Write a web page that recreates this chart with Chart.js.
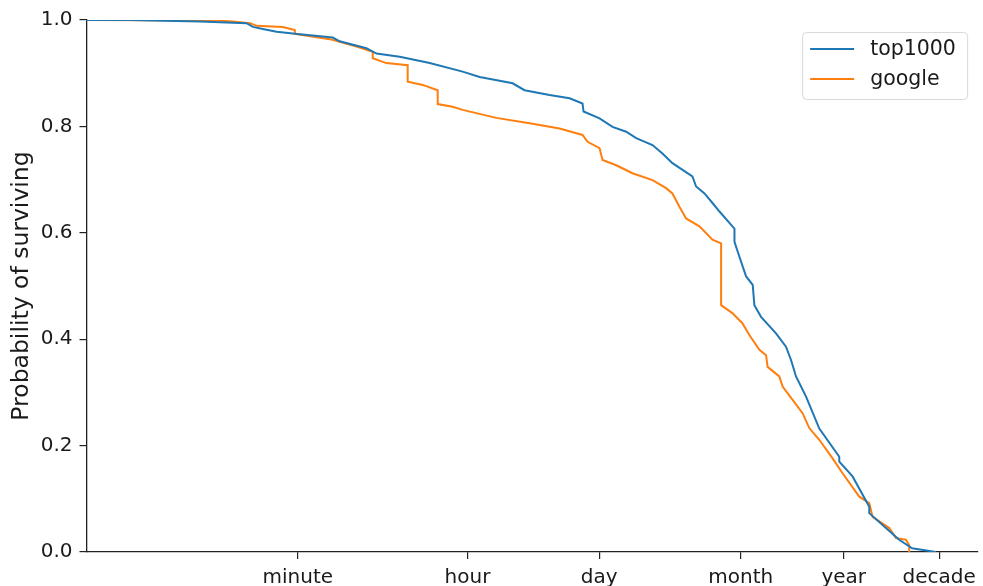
<!DOCTYPE html>
<html>
<head>
<meta charset="utf-8">
<script src="https://cdn.jsdelivr.net/npm/chart.js@4.4.1/dist/chart.umd.min.js"></script>
<style>
  body { margin: 0; background: #fff; }
  canvas { display: block; }
</style>
</head>
<body>
<canvas id="survivalChart" width="983" height="586"></canvas>
<script>
// time in seconds, survival probability
const top1000Time = [0.3, 1.04, 5.65, 17.4, 20.3, 25.8, 35.9, 63, 139, 165, 314, 400, 701, 1445,
  3200, 4820, 7810, 10690, 14260, 26060, 42270, 57800, 59200, 87100, 119100, 165600, 210900,
  312600, 397400, 505800, 818800, 895300, 1.096e6, 1.329e6, 1.574e6, 2.153e6, 2.259e6, 2.259e6,
  2.545e6, 2.992e6, 3.51e6, 3.651e6, 4.29e6, 6.156e6, 7.831e6, 8.845e6, 9.98e6, 1.271e7, 1.75e7,
  2.833e7, 2.833e7, 3.904e7, 5.843e7, 5.843e7, 8.736e7, 1.203e8, 1.644e8, 2.917e8];
const top1000Surv = [1.0, 1.0, 0.997, 0.994, 0.987, 0.983, 0.978, 0.973, 0.967, 0.960, 0.947, 0.937, 0.931, 0.919,
  0.903, 0.893, 0.886, 0.881, 0.868, 0.859, 0.853, 0.843, 0.828, 0.815, 0.799, 0.790, 0.778,
  0.765, 0.749, 0.731, 0.706, 0.687, 0.674, 0.656, 0.640, 0.612, 0.608, 0.583,
  0.555, 0.518, 0.502, 0.464, 0.442, 0.411, 0.386, 0.361, 0.330, 0.292, 0.232,
  0.179, 0.170, 0.142, 0.085, 0.073, 0.045, 0.023, 0.007, 0.0];

const googleTime = [0.3, 8.45, 12.5, 18.9, 22.2, 41.8, 55.8, 55.8, 129.7, 247, 366, 366, 509, 850, 850,
  1222, 1754, 1754, 2518, 3200, 7210, 16110, 33190, 57800, 65200, 87100, 93600, 130300, 192800,
  312600, 434600, 505800, 598400, 703400, 970000, 1.329e6, 1.637e6, 1.637e6, 2.148e6, 2.734e6,
  3.236e6, 4.121e6, 4.842e6, 5.027e6, 6.664e6, 7.219e6, 9.19e6, 1.169e7, 1.374e7, 1.75e7, 2.411e7,
  3.069e7, 4.592e7, 5.843e7, 6.327e7, 9.47e7, 1.112e8, 1.413e8, 1.531e8, 1.531e8];
const googleSurv = [1.0, 0.999, 0.997, 0.994, 0.989, 0.987, 0.981, 0.974, 0.964, 0.950, 0.940, 0.928, 0.919, 0.915, 0.884,
  0.878, 0.868, 0.842, 0.837, 0.831, 0.816, 0.806, 0.796, 0.784, 0.771, 0.759, 0.737, 0.727, 0.712,
  0.699, 0.684, 0.674, 0.649, 0.627, 0.612, 0.587, 0.580, 0.464, 0.449, 0.430,
  0.408, 0.380, 0.370, 0.348, 0.330, 0.311, 0.286, 0.261, 0.233, 0.211, 0.176,
  0.148, 0.104, 0.092, 0.066, 0.045, 0.026, 0.023, 0.013, 0.0];

const seriesNames = ['top1000', 'google'];
const seriesColors = ['#1f77b4', '#ff7f0e'];

// x ticks: minute, hour, day, month, year, decade (seconds)
const tickSeconds = [60, 3600, 86400, 2629746, 31556952, 315569520];
const tickLabels = ['minute', 'hour', 'day', 'month', 'year', 'decade'];

const FONT = 'DejaVu Sans';

function toPoints(times, vals) {
    return times.map((t, i) => ({ x: t, y: vals[i] }));
}

// legend with a light box, matplotlib style
const boxLegend = {
    id: 'boxLegend',
    afterDraw(chart) {
        const ctx = chart.ctx;
        const a = chart.chartArea;
        const x = a.right - 175, y = a.top + 12, w = 165, h = 67;
        ctx.save();
        ctx.fillStyle = 'rgba(255,255,255,0.8)';
        ctx.strokeStyle = '#d9d9d9';
        ctx.lineWidth = 1;
        ctx.beginPath();
        ctx.roundRect(x + 0.5, y + 0.5, w, h, 4);
        ctx.fill();
        ctx.stroke();
        ctx.font = '20.5px "' + FONT + '"';
        ctx.textBaseline = 'middle';
        seriesNames.forEach((name, i) => {
            const ly = y + 17 + i * 30;
            ctx.strokeStyle = seriesColors[i];
            ctx.lineWidth = 2;
            ctx.beginPath();
            ctx.moveTo(x + 8, ly);
            ctx.lineTo(x + 52, ly);
            ctx.stroke();
            ctx.fillStyle = '#1a1a1a';
            ctx.fillText(name, x + 68, ly + 1);
        });
        ctx.restore();
    }
};

const ctx = document.getElementById('survivalChart').getContext('2d');
new Chart(ctx, {
    type: 'scatter',
    data: {
        datasets: [
            { label: seriesNames[0], data: toPoints(top1000Time, top1000Surv) },
            { label: seriesNames[1], data: toPoints(googleTime, googleSurv) }
        ].map((d, i) => Object.assign(d, {
            showLine: true,
            borderColor: seriesColors[i],
            backgroundColor: seriesColors[i],
            borderWidth: 2,
            pointRadius: 0,
            tension: 0
        }))
    },
    options: {
        responsive: false,
        animation: false,
        devicePixelRatio: 1,
        layout: { padding: { top: 20, right: 5, left: 0, bottom: 0 } },
        plugins: {
            legend: { display: false },
            tooltip: { enabled: false }
        },
        scales: {
            x: {
                type: 'logarithmic',
                min: 0.366,
                max: 7.89e8,
                afterBuildTicks: scale => {
                    scale.ticks = tickSeconds.map(v => ({ value: v }));
                },
                afterFit: scale => { scale.height = 34; },
                ticks: {
                    autoSkip: false,
                    maxRotation: 0,
                    padding: 7,
                    color: '#1a1a1a',
                    font: { family: FONT, size: 20 },
                    callback: value => tickLabels[tickSeconds.indexOf(value)]
                },
                grid: {
                    drawOnChartArea: false,
                    drawTicks: true,
                    tickLength: 7,
                    color: '#222',
                    lineWidth: 1.2
                },
                border: { display: true, color: '#222', width: 1.3 }
            },
            y: {
                min: 0,
                max: 1,
                afterFit: scale => { scale.width = 86.5; },
                ticks: {
                    stepSize: 0.2,
                    padding: 7,
                    color: '#1a1a1a',
                    font: { family: FONT, size: 20 },
                    callback: v => v.toFixed(1)
                },
                grid: {
                    drawOnChartArea: false,
                    drawTicks: true,
                    tickLength: 7,
                    color: '#222',
                    lineWidth: 1.2
                },
                border: { display: true, color: '#222', width: 1.3 },
                title: {
                    display: true,
                    text: 'Probability of surviving',
                    color: '#1a1a1a',
                    font: { family: FONT, size: 23.5 },
                    padding: { top: 8, bottom: 0 }
                }
            }
        }
    },
    plugins: [boxLegend]
});
</script>
</body>
</html>
